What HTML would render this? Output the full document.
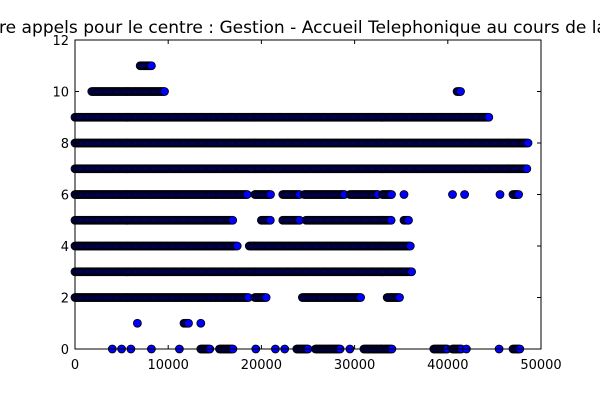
<!DOCTYPE html>
<html><head><meta charset="utf-8">
<style>
html,body{margin:0;padding:0;background:#fff;width:600px;height:400px;overflow:hidden}
svg{display:block}
text{font-family:"DejaVu Sans","Liberation Sans",sans-serif;fill:#000}
</style></head>
<body>
<svg id="chart" width="600" height="400">
<rect x="0" y="0" width="600" height="400" fill="#fff"/>
<text x="-1" y="33" font-size="17" textLength="608" lengthAdjust="spacingAndGlyphs">re appels pour le centre : Gestion - Accueil Telephonique au cours de la</text>
<g id="marks"></g>
<g id="axes"></g>
</svg>
<script>
// y levels (number of calls) and x runs [start,end] of call times
const levels = [11, 10, 9, 8, 7, 6, 5, 4, 3, 2, 1, 0];
const runs11 = [[7000, 8300]];
const runs10 = [[1800, 9700], [41000, 41400]];
const runs9 = [[0, 44500]];
const runs8 = [[0, 48600]];
const runs7 = [[0, 48500]];
const runs6 = [[0, 18500], [19300, 21000], [22300, 24100], [24600, 29000], [29500, 32500], [33000, 34000], [35300, 35300], [40500, 40500], [41800, 41800], [45600, 45600], [47000, 47600]];
const runs5 = [[0, 17000], [20000, 21000], [22300, 24100], [24800, 34000], [35300, 35800]];
const runs4 = [[0, 17500], [18700, 36000]];
const runs3 = [[0, 36200]];
const runs2 = [[0, 18600], [19300, 20600], [24400, 30700], [33500, 34900]];
const runs1 = [[6700, 6700], [11700, 12200], [13500, 13500]];
const runs0 = [[4000, 4000], [5000, 5000], [6000, 6000], [8200, 8200], [11200, 11200], [13500, 14500], [15500, 17000], [19400, 19400], [21500, 21500], [22500, 22500], [23800, 25000], [25800, 28500], [29500, 29500], [31000, 34000], [38500, 40000], [40500, 41500], [42000, 42000], [45500, 45500], [47000, 47800]];
const allRuns = [runs11, runs10, runs9, runs8, runs7, runs6, runs5, runs4, runs3, runs2, runs1, runs0];
const xTicks = [0, 10000, 20000, 30000, 40000, 50000];
const yTicks = [0, 2, 4, 6, 8, 10, 12];

const L = 75, R = 541, T = 40, B = 349;
const xs = v => L + v / 50000 * (R - L);
const ys = v => B - v / 12 * (B - T);
const NS = 'http://www.w3.org/2000/svg';
const marks = document.getElementById('marks');
const axes = document.getElementById('axes');

levels.forEach((lv, i) => {
  allRuns[i].forEach(run => {
    for (let v = run[0]; v <= run[1]; v += 120) {
      const c = document.createElementNS(NS, 'circle');
      c.setAttribute('cx', xs(v).toFixed(1));
      c.setAttribute('cy', ys(lv));
      c.setAttribute('r', 4);
      c.setAttribute('fill', '#0000ff');
      c.setAttribute('stroke', '#000');
      c.setAttribute('stroke-width', 0.8);
      
      
      marks.appendChild(c);
    }
  });
});

const frame = document.createElementNS(NS, 'rect');
frame.setAttribute('x', L); frame.setAttribute('y', T);
frame.setAttribute('width', R - L); frame.setAttribute('height', B - T);
frame.setAttribute('fill', 'none'); frame.setAttribute('stroke', '#000');


axes.appendChild(frame);

xTicks.forEach(t => {
  const x = xs(t);
  [[B, B - 4], [T, T + 4]].forEach(p => {
    const l = document.createElementNS(NS, 'line');
    l.setAttribute('x1', x); l.setAttribute('x2', x);
    l.setAttribute('y1', p[0]); l.setAttribute('y2', p[1]);
    l.setAttribute('stroke', '#000');
    
    
    axes.appendChild(l);
  });
  const tx = document.createElementNS(NS, 'text');
  tx.setAttribute('x', x); tx.setAttribute('y', 369);
  tx.setAttribute('font-size', 13); tx.setAttribute('text-anchor', 'middle');
  tx.textContent = t;
  
  
  axes.appendChild(tx);
});
yTicks.forEach(t => {
  const y = ys(t);
  [[L, L + 4], [R, R - 4]].forEach(p => {
    const l = document.createElementNS(NS, 'line');
    l.setAttribute('x1', p[0]); l.setAttribute('x2', p[1]);
    l.setAttribute('y1', y); l.setAttribute('y2', y);
    l.setAttribute('stroke', '#000');
    
    
    axes.appendChild(l);
  });
  const tx = document.createElementNS(NS, 'text');
  tx.setAttribute('x', 69); tx.setAttribute('y', y + 5);
  tx.setAttribute('font-size', 13); tx.setAttribute('text-anchor', 'end');
  tx.textContent = t;
  
  
  axes.appendChild(tx);
});
</script>
</body></html>
